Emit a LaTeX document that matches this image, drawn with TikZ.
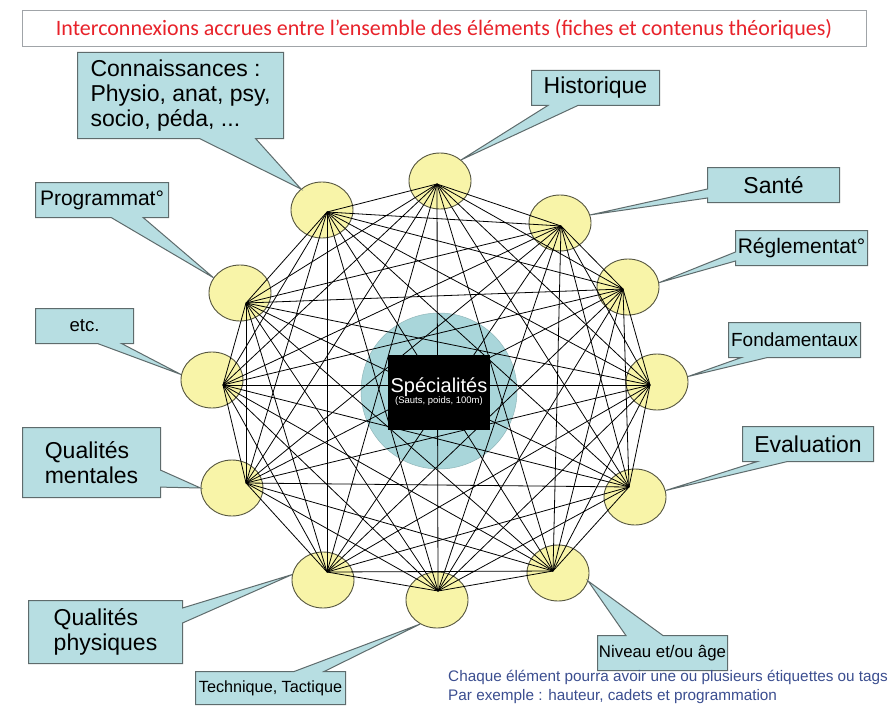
\documentclass[tikz,border=0pt]{standalone}
\usepackage{fontspec}
\setmainfont{Liberation Sans}
\newfontfamily\titlefont{Carlito}
\usetikzlibrary{shapes.geometric,shapes.callouts}

\definecolor{tagfill}{HTML}{B7DEE2}
\definecolor{tagline}{HTML}{5E6B6C}
\definecolor{dotfill}{HTML}{F8F4A8}
\definecolor{dotline}{HTML}{55553F}
\definecolor{corefill}{HTML}{A9D6DA}
\definecolor{titlered}{HTML}{E8222A}
\definecolor{titlebox}{HTML}{A0A4A8}
\definecolor{notecol}{HTML}{3B4E90}

\tikzset{
  dot/.style={ellipse, draw=dotline, fill=dotfill, line width=0.9pt,
    minimum width=62pt, minimum height=56pt, inner sep=0pt},
  link/.style={line width=0.8pt, black},
  tag/.style={rectangle callout, draw=tagline, fill=tagfill, line width=1pt,
    inner sep=0pt, anchor=north west, align=center},
}

\begin{document}
\begin{tikzpicture}[x=1pt,y=-1pt]
    \useasboundingbox[fill=white] (0,0) rectangle (888,706);
    \node[draw=titlebox, line width=1pt, minimum width=844pt, minimum height=36pt,
        text=titlered, font=\titlefont\fontsize{22}{26}\selectfont] (title) at (444,29)
        {Interconnexions accrues entre l’ensemble des éléments (fiches et contenus théoriques)};
    \foreach \i/\x/\y/\hx/\hy in {1/440/181/437/184, 2/560/223/561/226, 3/628/287/623/289,
        4/657/382/650/385, 5/635/497/629/487, 6/558/573/553/571, 7/437/600/438/591,
        8/323/580/327/572, 9/232/488/246/483, 10/212/380/223/385, 11/240/293/246/303,
        12/322/210/327/212} {
        \node[dot] (c\i) at (\x,\y) {};
        \coordinate (h\i) at (\hx,\hy);
    }
    \node[circle, fill=corefill, draw=corefill!85!black, line width=0.5pt, minimum size=156pt] (core) at (439,391) {};
    \foreach \i in {1,...,11} {
        \pgfmathtruncatemacro\nxt{\i+1}
        \foreach \j in {\nxt,...,12}
            \draw[link] (h\i) -- (h\j);
    }
    \node[fill=black, text=white, minimum width=102pt, minimum height=75pt, inner sep=0pt,
        align=center] (spec) at (439,392)
        {\fontsize{20}{20}\selectfont Spécialités\\[-1pt]\fontsize{9.5}{10}\selectfont (Sauts, poids, 100m)};
    \node[tag, minimum width=128pt, minimum height=35pt, callout pointer width=30pt,
        callout absolute pointer={(c1.45)}, font=\fontsize{23}{25}\selectfont] (t1) at (531,70) {Historique};
    \node[tag, minimum width=132pt, minimum height=35pt, callout pointer width=9pt,
        callout absolute pointer={(c2.15)}, font=\fontsize{23}{25}\selectfont] (t2) at (707,167) {Santé};
    \node[tag, minimum width=132pt, minimum height=35pt, callout pointer width=9pt,
        callout absolute pointer={(c3.8)}, font=\fontsize{21}{23}\selectfont] (t3) at (735,230) {Réglementat°};
    \node[tag, minimum width=132pt, minimum height=35pt, callout pointer width=26pt,
        callout absolute pointer={(c4.10)}, font=\fontsize{19}{21}\selectfont] (t4) at (728,322) {Fondamentaux};
    \node[tag, minimum width=131pt, minimum height=35pt, callout pointer width=30pt,
        callout absolute pointer={(c5.12)}, font=\fontsize{23}{25}\selectfont] (t5) at (742,426) {Evaluation};
    \node[tag, minimum width=130pt, minimum height=35pt, callout pointer width=37pt,
        callout absolute pointer={(c6.-15)}, font=\fontsize{16.8}{19}\selectfont] (t6) at (597,635) {Niveau et/ou âge};
    \node[tag, minimum width=150pt, minimum height=33pt, callout pointer width=30pt,
        callout absolute pointer={(c7.235)}, font=\fontsize{16.2}{19}\selectfont] (t7) at (195,671) {Technique, Tactique};
    \node[tag, minimum width=154pt, minimum height=63pt, callout pointer width=15pt,
        callout absolute pointer={(c8.170)}, align=left, font=\fontsize{23}{25}\selectfont] (t8) at (28,600) {Qualités\\physiques};
    \node[tag, minimum width=138pt, minimum height=70pt, callout pointer width=17pt,
        callout absolute pointer={(c9.180)}, align=left, font=\fontsize{23}{25}\selectfont] (t9) at (22,427) {Qualités\\mentales};
    \node[tag, minimum width=98pt, minimum height=35pt, callout pointer width=24pt,
        callout absolute pointer={(c10.170)}, font=\fontsize{18.6}{21}\selectfont] (t10) at (35,308) {etc.};
    \node[tag, minimum width=133pt, minimum height=35pt, callout pointer width=32pt,
        callout absolute pointer={(c11.150)}, font=\fontsize{21}{23}\selectfont] (t11) at (35,182) {Programmat°};
    \node[tag, minimum width=206pt, minimum height=86pt, callout pointer width=56pt,
        callout absolute pointer={(c12.135)}, align=left, font=\fontsize{23}{25}\selectfont] (t12) at (77,52)
        {Connaissances :\\Physio, anat, psy,\\socio, péda, ...};
    \node[anchor=west, inner sep=0pt, align=left, text=notecol, font=\fontsize{15.3}{19}\selectfont] (note) at (448,687)
        {Chaque élément pourra avoir une ou plusieurs étiquettes ou tags\\Par exemple : hauteur, cadets et programmation};
\end{tikzpicture}
\end{document}
